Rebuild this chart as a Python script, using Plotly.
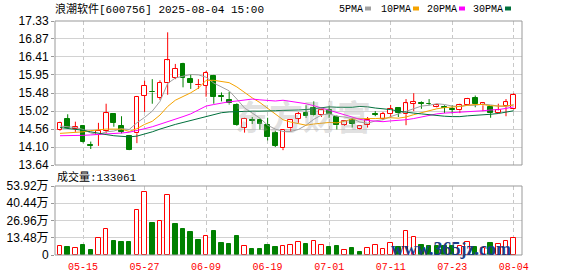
import plotly.graph_objects as go

# ---------------- data ----------------
dates = [
    "2025-05-12", "2025-05-13", "2025-05-14", "2025-05-15", "2025-05-16",
    "2025-05-19", "2025-05-20", "2025-05-21", "2025-05-22", "2025-05-23",
    "2025-05-26", "2025-05-27", "2025-05-28", "2025-05-29", "2025-05-30",
    "2025-06-03", "2025-06-04", "2025-06-05", "2025-06-06", "2025-06-09",
    "2025-06-10", "2025-06-11", "2025-06-12", "2025-06-13", "2025-06-16",
    "2025-06-17", "2025-06-18", "2025-06-19", "2025-06-20", "2025-06-23",
    "2025-06-24", "2025-06-25", "2025-06-26", "2025-06-27", "2025-06-30",
    "2025-07-01", "2025-07-02", "2025-07-03", "2025-07-04", "2025-07-07",
    "2025-07-08", "2025-07-09", "2025-07-10", "2025-07-11", "2025-07-14",
    "2025-07-15", "2025-07-16", "2025-07-17", "2025-07-18", "2025-07-21",
    "2025-07-22", "2025-07-23", "2025-07-24", "2025-07-25", "2025-07-28",
    "2025-07-29", "2025-07-30", "2025-07-31", "2025-08-01", "2025-08-04",
]

open_ = [14.54, 14.83, 14.55, 14.65, 14.14, 14.41, 14.52, 14.94, 14.64, 14.38,
         14.45, 15.42, 15.51, 15.36, 15.73, 15.88, 16.23, 15.84, 15.68, 15.67,
         15.92, 15.40, 15.31, 15.17, 14.60, 14.79, 14.80, 14.66, 14.47, 14.07,
         14.58, 14.83, 14.96, 15.11, 14.91, 15.06, 14.87, 14.66, 14.79, 14.55,
         14.66, 14.94, 14.83, 14.94, 15.10, 14.94, 15.21, 15.22, 15.21, 15.12,
         15.12, 15.07, 15.04, 15.19, 15.36, 15.17, 15.12, 14.97, 15.14, 15.08]

high = [14.75, 14.94, 14.75, 14.66, 14.24, 14.72, 15.21, 14.97, 14.89, 14.41,
        15.41, 15.80, 15.84, 15.81, 17.04, 16.23, 16.26, 15.96, 15.84, 16.05,
        15.95, 15.50, 15.52, 15.22, 14.85, 14.87, 14.83, 14.85, 14.52, 14.55,
        14.80, 15.00, 15.17, 15.27, 15.08, 15.14, 14.91, 14.79, 14.85, 14.66,
        14.87, 15.02, 15.00, 15.18, 15.12, 15.33, 15.48, 15.27, 15.33, 15.21,
        15.17, 15.17, 15.21, 15.36, 15.42, 15.24, 15.14, 15.21, 15.33, 15.48]

low = [14.52, 14.58, 14.49, 14.20, 14.05, 14.13, 14.45, 14.62, 14.45, 14.02,
       14.20, 15.00, 15.21, 15.31, 15.44, 15.84, 15.63, 15.59, 15.59, 15.39,
       15.21, 15.27, 15.19, 14.64, 14.47, 14.69, 14.55, 14.27, 14.10, 14.02,
       14.49, 14.72, 14.85, 14.89, 14.87, 14.85, 14.55, 14.64, 14.60, 14.54,
       14.60, 14.89, 14.79, 14.85, 14.87, 14.66, 15.02, 15.08, 15.17, 15.11,
       14.97, 14.96, 14.97, 15.17, 15.12, 15.02, 14.85, 14.96, 14.89, 15.06]

close = [14.72, 14.60, 14.62, 14.22, 14.13, 14.52, 14.97, 14.72, 14.49, 14.03,
         15.39, 15.67, 15.50, 15.75, 16.32, 16.11, 15.88, 15.75, 15.69, 16.01,
         15.39, 15.38, 15.22, 14.66, 14.83, 14.78, 14.70, 14.35, 14.13, 14.54,
         14.79, 14.94, 14.89, 14.91, 15.06, 14.94, 14.66, 14.77, 14.70, 14.64,
         14.80, 14.93, 14.95, 15.08, 14.97, 15.22, 15.25, 15.21, 15.20, 15.17,
         15.11, 15.06, 15.17, 15.33, 15.20, 15.22, 14.97, 15.04, 15.25, 15.44]

prev_close = 14.60  # close of the session before the first one shown

volume_wan = [7.0, 6.4, 5.4, 7.8, 4.1, 13.2, 20.2, 11.1, 9.8, 10.3,
              34.9, 48.9, 25.3, 26.4, 46.8, 24.5, 20.4, 18.1, 11.9, 14.7,
              18.8, 9.5, 8.8, 15.0, 7.0, 4.9, 4.9, 8.0, 6.4, 7.0,
              7.8, 10.1, 8.8, 10.9, 7.8, 6.4, 7.2, 3.9, 5.7, 2.6,
              5.4, 7.8, 4.7, 9.5, 6.4, 18.6, 14.0, 8.0, 7.2, 7.2,
              7.2, 7.2, 7.0, 10.1, 6.2, 5.4, 9.5, 8.5, 10.9, 13.31]

ma5 = [14.64, 14.62, 14.60, 14.55, 14.46, 14.42, 14.49, 14.51, 14.57, 14.55,
       14.72, 14.86, 15.02, 15.27, 15.73, 15.87, 15.91, 15.96, 15.95, 15.89,
       15.74, 15.64, 15.54, 15.33, 15.10, 14.97, 14.84, 14.66, 14.56, 14.50,
       14.50, 14.55, 14.66, 14.81, 14.92, 14.95, 14.89, 14.87, 14.83, 14.74,
       14.71, 14.77, 14.80, 14.88, 14.95, 15.03, 15.09, 15.15, 15.17, 15.21,
       15.19, 15.15, 15.14, 15.17, 15.17, 15.20, 15.18, 15.15, 15.14, 15.18]

ma10 = [14.45, 14.46, 14.47, 14.49, 14.52, 14.54, 14.56, 14.56, 14.56, 14.50,
        14.57, 14.68, 14.76, 14.92, 15.14, 15.30, 15.39, 15.49, 15.61, 15.81,
        15.81, 15.78, 15.75, 15.64, 15.49, 15.36, 15.24, 15.10, 14.95, 14.80,
        14.74, 14.69, 14.66, 14.69, 14.71, 14.73, 14.72, 14.76, 14.82, 14.83,
        14.83, 14.83, 14.84, 14.85, 14.84, 14.87, 14.93, 14.98, 15.03, 15.08,
        15.11, 15.12, 15.14, 15.17, 15.19, 15.19, 15.16, 15.15, 15.15, 15.18]

ma20 = [14.39, 14.39, 14.40, 14.40, 14.41, 14.42, 14.43, 14.44, 14.46, 14.48,
        14.52, 14.57, 14.62, 14.68, 14.75, 14.81, 14.88, 14.95, 15.05, 15.15,
        15.19, 15.23, 15.26, 15.28, 15.31, 15.33, 15.31, 15.30, 15.28, 15.30,
        15.27, 15.24, 15.21, 15.16, 15.10, 15.04, 14.98, 14.93, 14.88, 14.81,
        14.78, 14.76, 14.75, 14.77, 14.78, 14.80, 14.83, 14.87, 14.92, 14.95,
        14.97, 14.98, 14.99, 15.01, 15.02, 15.03, 15.05, 15.06, 15.09, 15.13]

ma30 = [14.60, 14.58, 14.56, 14.53, 14.49, 14.45, 14.42, 14.39, 14.37, 14.36,
        14.38, 14.43, 14.49, 14.56, 14.63, 14.68, 14.73, 14.78, 14.83, 14.88,
        14.94, 14.98, 15.00, 15.01, 15.02, 15.02, 15.02, 15.02, 15.03, 15.04,
        15.04, 15.05, 15.06, 15.08, 15.11, 15.13, 15.12, 15.12, 15.12, 15.14,
        15.13, 15.10, 15.08, 15.06, 15.02, 14.99, 14.97, 14.95, 14.93, 14.90,
        14.89, 14.88, 14.88, 14.90, 14.91, 14.93, 14.94, 14.96, 15.00, 15.03]

tick_dates = ["2025-05-15", "2025-05-27", "2025-06-09", "2025-06-19",
              "2025-07-01", "2025-07-11", "2025-07-23", "2025-08-04"]
tick_labels = ["05-15", "05-27", "06-09", "06-19", "07-01", "07-11", "07-23", "08-04"]
price_ticks = [13.64, 14.10, 14.56, 15.02, 15.48, 15.95, 16.41, 16.87, 17.33]
vol_ticks = [0, 13.48, 26.96, 40.44, 53.92]
vol_tick_labels = ["0", "13.48万", "26.96万", "40.44万", "53.92万"]
ma_names = ["5PMA", "10PMA", "20PMA", "30PMA"]
title_text = "浪潮软件[600756] 2025-08-04 15:00"
last_volume = 133061

# ---------------- styling ----------------
W, H = 578, 276
RED = "#ff0000"
GREEN = "#008000"
MA_COLORS = ["#a0a0a0", "#f5a300", "#ff00ff", "#00703c"]
GRID = "#d2d2d2"
FRAME = "#999999"
MONO = "Liberation Mono, Noto Sans CJK SC"


def px_x(p):
    return p / W


def px_y(p):
    return 1 - p / H


fig = go.Figure()

# candles: wick segments outside the body
up = [c >= o for o, c in zip(open_, close)]
for color_up in (True, False):
    xs, ys = [], []
    for d, o, h, l, c, u in zip(dates, open_, high, low, close, up):
        if u != color_up:
            continue
        top = max(o, c)
        bot = min(o, c)
        xs += [d, d, None, d, d, None]
        ys += [h, top, None, bot, l, None]
    fig.add_trace(go.Scatter(x=xs, y=ys, mode="lines",
                             line=dict(color=RED if color_up else GREEN, width=1),
                             hoverinfo="skip", xaxis="x", yaxis="y"))

body_base = [min(o, c) for o, c in zip(open_, close)]
body_h = [max(abs(c - o), 0.012) for o, c in zip(open_, close)]
fig.add_trace(go.Bar(
    x=dates, y=body_h, base=body_base, width=0.62,
    marker=dict(color=["#ffffff" if u else GREEN for u in up],
                line=dict(color=[RED if u else GREEN for u in up], width=1)),
    xaxis="x", yaxis="y", hoverinfo="skip"))

# moving averages
for ser, col in zip([ma5, ma10, ma20, ma30], MA_COLORS):
    fig.add_trace(go.Scatter(x=dates, y=ser, mode="lines",
                             line=dict(color=col, width=1),
                             xaxis="x", yaxis="y", hoverinfo="skip"))

# volume (coloured by change against the previous close)
prevs = [prev_close] + close[:-1]
vol_up = [c >= p for c, p in zip(close, prevs)]
fig.add_trace(go.Bar(
    x=dates, y=volume_wan, width=0.58,
    marker=dict(color=["#ffffff" if u else GREEN for u in vol_up],
                line=dict(color=[RED if u else GREEN for u in vol_up], width=1)),
    xaxis="x", yaxis="y2", hoverinfo="skip"))

fig.update_layout(
    width=W, height=H,
    margin=dict(l=0, r=0, t=0, b=0),
    template="none",
    paper_bgcolor="white", plot_bgcolor="white",
    showlegend=False, barmode="overlay", bargap=0,
    xaxis=dict(
        domain=[px_x(55), px_x(522)], anchor="y2",
        type="category", categoryorder="array", categoryarray=dates,
        range=[-0.65, 60.08],
        tickmode="array", tickvals=tick_dates, ticktext=tick_labels,
        showgrid=True, gridcolor="#c8c8c8", gridwidth=1, griddash="4px,3px",
        ticks="", showline=False, zeroline=False, automargin=False,
        tickfont=dict(family=MONO, size=10, color=RED),
        ticklabelstandoff=4,
    ),
    yaxis=dict(
        domain=[px_y(165), px_y(21)], anchor="x",
        range=[13.64, 17.33],
        tickmode="array", tickvals=price_ticks,
        ticktext=[f"{v:.2f}" for v in price_ticks],
        showgrid=True, gridcolor=GRID, gridwidth=1,
        ticks="outside", ticklen=3, tickcolor=FRAME,
        zeroline=False, showline=False, automargin=False,
        tickfont=dict(family="Liberation Sans", size=12, color="#000000"),
    ),
    yaxis2=dict(
        domain=[px_y(255), px_y(186)], anchor="x",
        range=[0, 53.92],
        tickmode="array", tickvals=vol_ticks, ticktext=vol_tick_labels,
        showgrid=True, gridcolor=GRID, gridwidth=1,
        ticks="outside", ticklen=3, tickcolor=FRAME,
        zeroline=False, showline=False, automargin=False,
        tickfont=dict(family="Liberation Sans, Noto Sans CJK SC", size=12, color="#000000"),
    ),
)

# panel frames
for yr in ("y domain", "y2 domain"):
    fig.add_shape(type="rect", xref="x domain", yref=yr, x0=0, x1=1, y0=0, y1=1,
                  line=dict(color=FRAME, width=1), fillcolor="rgba(0,0,0,0)", layer="above")

annotations = []
# watermark
annotations.append(dict(x=px_x(303), y=px_y(89), xref="paper", yref="paper",
                        text="<b>东方财富</b>", showarrow=False,
                        font=dict(family="Noto Sans CJK SC", size=34, color="rgba(160,160,160,0.33)")))
# title
annotations.append(dict(x=px_x(53), y=px_y(9), xref="paper", yref="paper", xanchor="left",
                        yanchor="middle", text=title_text, showarrow=False,
                        font=dict(family=MONO, size=11, color="#000000")))
# legend
leg_text_x = [337, 379, 425, 471]
leg_sq_x = [365, 413, 459, 505]
for name, col, tx, sx in zip(ma_names, MA_COLORS, leg_text_x, leg_sq_x):
    annotations.append(dict(x=px_x(tx), y=px_y(9), xref="paper", yref="paper", xanchor="left",
                            yanchor="middle", text=name, showarrow=False,
                            font=dict(family=MONO, size=10, color="#000000")))
    fig.add_shape(type="rect", xref="paper", yref="paper",
                  x0=px_x(sx), x1=px_x(sx + 6), y0=px_y(10.5), y1=px_y(6.5),
                  line=dict(width=0), fillcolor=col)
# volume label
annotations.append(dict(x=px_x(55), y=px_y(177), xref="paper", yref="paper", xanchor="left",
                        yanchor="middle", text=f"成交量:{last_volume}", showarrow=False,
                        font=dict(family=MONO, size=11, color="#000000")))
# site watermark
annotations.append(dict(x=px_x(513), y=px_y(261), xref="paper", yref="paper",
                        text="<b>www.365jz.com</b>", showarrow=False,
                        font=dict(family="Liberation Serif", size=18, color="#1d3c85")))
fig.update_layout(annotations=annotations)

fig.write_html("out.html")
